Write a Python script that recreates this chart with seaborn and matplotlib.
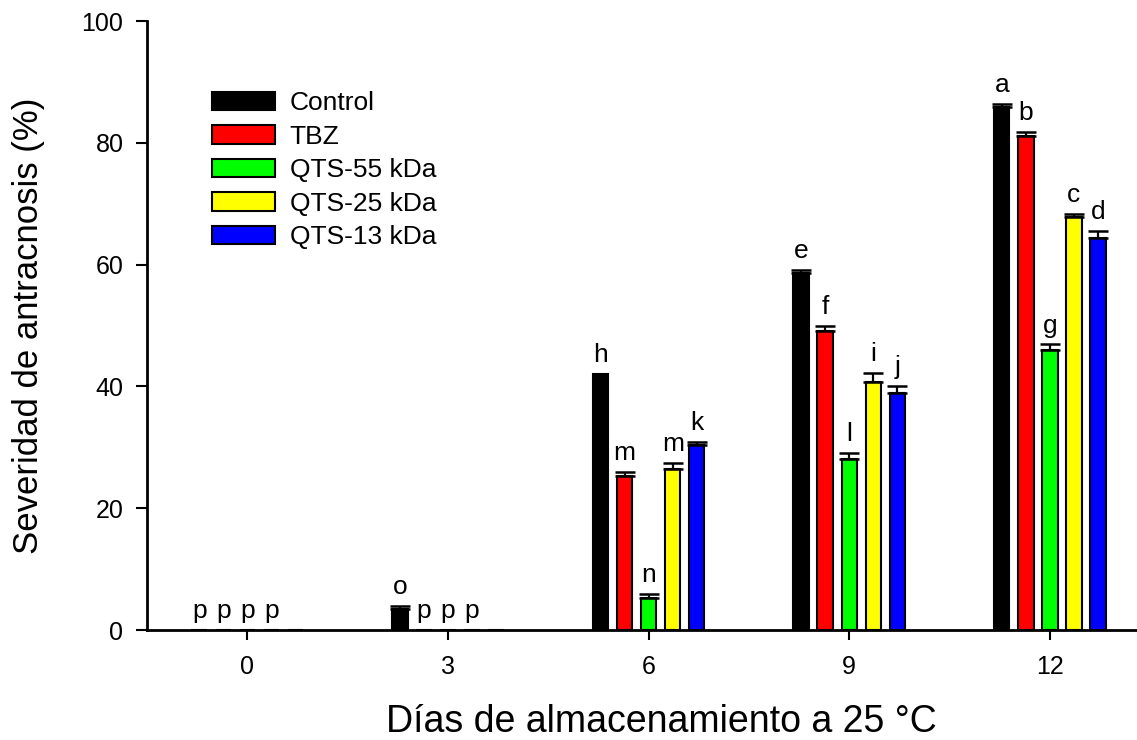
import numpy as np
import pandas as pd
import matplotlib
matplotlib.use("Agg")
import matplotlib.pyplot as plt
import seaborn as sns

# Storage days and treatments
dias = ["0", "3", "6", "9", "12"]
tratamientos = ["Control", "TBZ", "QTS-55 kDa", "QTS-25 kDa", "QTS-13 kDa"]
colores = ["#000000", "#FF0000", "#00FF00", "#FFFF00", "#0000FF"]

# Anthracnose severity (%) per treatment, one value per storage day
control = [0.0, 3.4, 42.1, 58.6, 85.9]
tbz = [0.0, 0.0, 25.3, 49.1, 81.2]
qts55 = [0.0, 0.0, 5.3, 28.1, 46.0]
qts25 = [0.0, 0.0, 26.4, 40.7, 67.8]
qts13 = [0.0, 0.0, 30.4, 39.0, 64.4]

# Standard errors (upper side only)
err_control = [0.0, 0.5, 0.0, 0.5, 0.5]
err_tbz = [0.0, 0.0, 0.6, 0.9, 0.6]
err_qts55 = [0.0, 0.0, 0.6, 1.0, 0.9]
err_qts25 = [0.0, 0.0, 1.1, 1.5, 0.5]
err_qts13 = [0.0, 0.0, 0.5, 1.1, 1.1]

# Tukey letters ("" = no letter)
let_control = ["p", "o", "h", "e", "a"]
let_tbz = ["p", "p", "m", "f", "b"]
let_qts55 = ["p", "p", "n", "l", "g"]
let_qts25 = ["p", "p", "m", "i", "c"]
let_qts13 = ["", "", "k", "j", "d"]

valores = [control, tbz, qts55, qts25, qts13]
errores = [err_control, err_tbz, err_qts55, err_qts25, err_qts13]
letras = [let_control, let_tbz, let_qts55, let_qts25, let_qts13]

df = pd.DataFrame({
    "dia": np.tile(dias, len(tratamientos)),
    "trat": np.repeat(tratamientos, len(dias)),
    "sev": np.concatenate(valores),
})

sns.set_style("ticks")
plt.rcParams["font.family"] = ["Liberation Sans", "DejaVu Sans"]
plt.rcParams["text.color"] = "black"
plt.rcParams["axes.labelcolor"] = "black"
plt.rcParams["xtick.color"] = "black"
plt.rcParams["ytick.color"] = "black"

fig = plt.figure(figsize=(11.37, 7.40), dpi=100)
ax = fig.add_axes([0.1293, 0.1486, 0.8707, 0.8230])

sns.barplot(data=df, x="dia", y="sev", hue="trat", order=dias,
            hue_order=tratamientos, palette=colores, width=0.6, gap=0.36,
            edgecolor="black", linewidth=1.5, errorbar=None, ax=ax,
            saturation=1, legend=True)

# Upper error bars and letters above each bar
for cont, vals, errs, lets in zip(ax.containers, valores, errores, letras):
    xs = [p.get_x() + p.get_width() / 2 for p in cont.patches]
    for x, v, e, l in zip(xs, vals, errs, lets):
        if e > 0:
            ax.errorbar(x, v, yerr=[[0], [e]], fmt="none", ecolor="black",
                        elinewidth=1.6, capsize=7.5, capthick=1.8, zorder=3)
        if l:
            ax.annotate(l, (x, v + e), xytext=(0, 8.5),
                        textcoords="offset points", ha="center",
                        va="baseline", fontsize=19, color="black")

ax.set_xlim(-0.5, 4.434)
ax.set_ylim(0, 100)
ax.set_yticks(np.arange(0, 101, 20))
ax.set_xlabel("Días de almacenamiento a 25 °C", fontsize=27)
ax.xaxis.set_label_coords(0.520, -0.122)
ax.set_ylabel("Severidad de antracnosis (%)", fontsize=25, labelpad=26)
ax.tick_params(axis="y", direction="out", length=8, width=1.5,
               labelsize=18, pad=9)
ax.tick_params(axis="x", direction="out", length=7, width=1.5,
               labelsize=18, pad=11)

sns.despine(ax=ax, top=True, right=True)
for s in ["left", "bottom"]:
    ax.spines[s].set_linewidth(2)
    ax.spines[s].set_color("black")

ax.legend(loc="upper left", bbox_to_anchor=(0.055, 0.902), frameon=False,
          fontsize=19, handlelength=2.4, handleheight=0.7,
          handletextpad=0.55, labelspacing=0.36, borderaxespad=0)

fig.savefig("out.png", dpi=100)
